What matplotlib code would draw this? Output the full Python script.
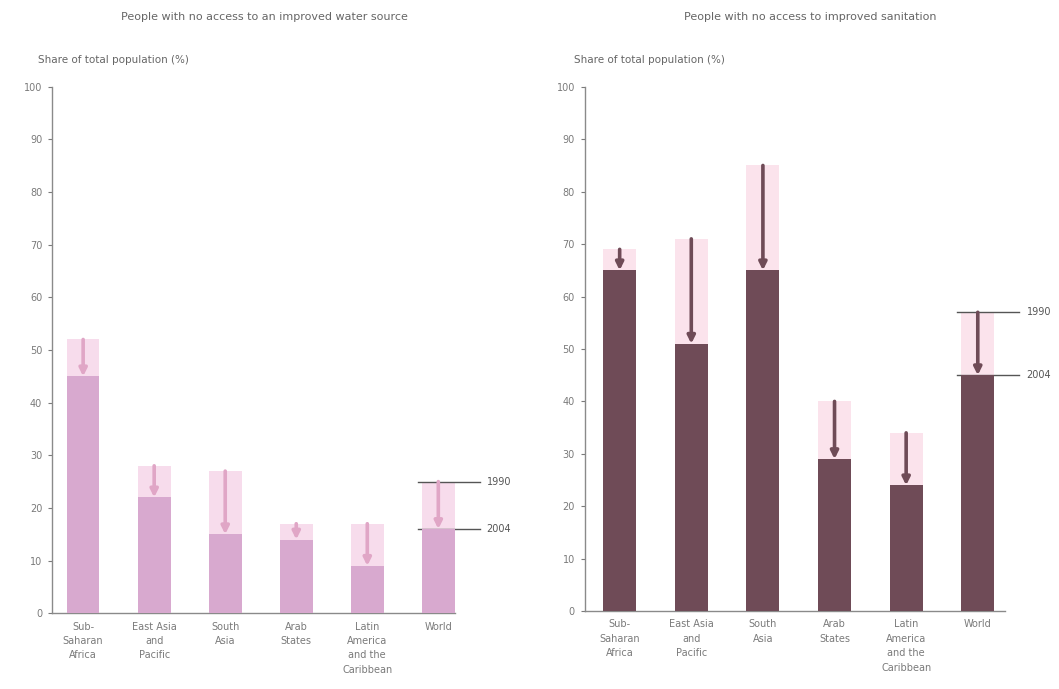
import matplotlib.pyplot as plt
import numpy as np

# ---- data ----
REGIONS = ["Sub-\nSaharan\nAfrica", "East Asia\nand\nPacific", "South\nAsia",
           "Arab\nStates", "Latin\nAmerica\nand the\nCaribbean", "World"]
WATER_1990 = [52, 28, 27, 17, 17, 25]
WATER_2004 = [45, 22, 15, 14, 9, 16]
SAN_1990 = [69, 71, 85, 40, 34, 57]
SAN_2004 = [65, 51, 65, 29, 24, 45]
YEARS = ["1990", "2004"]

GREY = "#7a7a7a"
plt.rcParams.update({
    "font.family": "DejaVu Sans", "font.size": 7, "text.color": GREY,
    "xtick.color": GREY, "ytick.color": GREY, "axes.edgecolor": "#8a8a8a",
    "axes.linewidth": 1.0, "axes.spines.top": False, "axes.spines.right": False,
})

fig = plt.figure(figsize=(10.59, 6.89), dpi=100)
fig.patch.set_facecolor("white")


def panel(rect, xlim, v90, v04, bar_c, arrow_c, band_c, title, tx, lx):
    ax = fig.add_axes(rect)
    x = np.arange(len(REGIONS))
    v90, v04 = np.array(v90), np.array(v04)
    # pale band showing the drop since 1990
    ax.bar(x, v90 - v04, bottom=v04, width=0.46, color=band_c, zorder=1)
    ax.bar(x, v04, width=0.46, color=bar_c, zorder=3)
    for xi, a, b in zip(x, v90, v04):
        ax.annotate("", xy=(xi, b), xytext=(xi, a),
                    arrowprops=dict(arrowstyle="-|>", color=arrow_c, lw=2.6,
                                    mutation_scale=11, shrinkA=0, shrinkB=0),
                    zorder=4)
    # year key next to the World bar
    w = len(REGIONS) - 1
    for val, lab in zip((v90[w], v04[w]), YEARS):
        ax.plot([w - 0.29, w + 0.58], [val, val], color="#555555", lw=1.0,
                clip_on=False, zorder=2)
        ax.text(w + 0.68, val, lab, ha="left", va="center", fontsize=7,
                color="#555555", clip_on=False)
    ax.set_xlim(*xlim)
    ax.set_ylim(0, 100)
    ax.set_yticks(range(0, 101, 10))
    ax.set_xticks(x)
    ax.set_xticklabels(REGIONS, fontsize=7, linespacing=1.55)
    ax.tick_params(axis="x", length=0, pad=6)
    ax.tick_params(axis="y", length=3, direction="out", pad=4)
    fig.text(tx, 0.975, title, ha="center", va="center", fontsize=8, color="#666666")
    fig.text(lx, 0.913, "Share of total population (%)", ha="left", va="center",
             fontsize=7.5, color="#666666")
    return ax


panel([0.049, 0.110, 0.381, 0.764], (-0.44, 5.24), WATER_1990, WATER_2004,
      "#d8a9cf", "#e0a6c6", "#f7dcec",
      "People with no access to an improved water source", 0.25, 0.036)
panel([0.552, 0.113, 0.397, 0.761], (-0.49, 5.38), SAN_1990, SAN_2004,
      "#6f4b57", "#6f4b57", "#fbe3ec",
      "People with no access to improved sanitation", 0.765, 0.542)

fig.savefig("out.png", dpi=100, facecolor="white")
